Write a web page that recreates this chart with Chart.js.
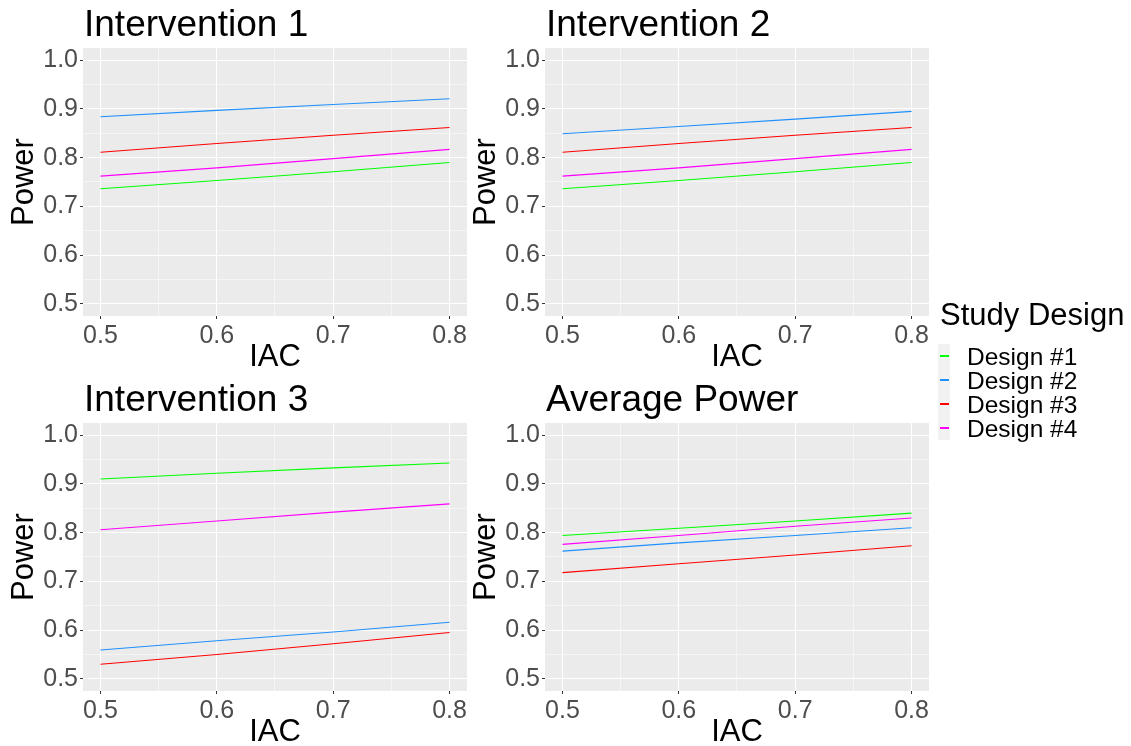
<!DOCTYPE html>
<html>
<head>
<meta charset="utf-8">
<script src="https://cdn.jsdelivr.net/npm/chart.js@4"></script>
<style>
    body { margin: 0; width: 1131px; height: 746px; background: #fff; overflow: hidden; position: relative; font-family: "Liberation Sans", Arial, sans-serif; }
    canvas { position: absolute; }
    #legend { position: absolute; left: 0; top: 0; z-index: 2; }
    .lg { position: absolute; line-height: 1; color: #000; white-space: nowrap; }
    .key { position: absolute; left: 940px; width: 9px; height: 2px; }
</style>
</head>
<body>
<canvas id="panel1" width="480" height="376" style="left:0px;top:0px"></canvas>
<canvas id="panel2" width="480" height="376" style="left:462px;top:0px"></canvas>
<canvas id="panel3" width="480" height="376" style="left:0px;top:375px"></canvas>
<canvas id="panel4" width="480" height="376" style="left:462px;top:375px"></canvas>
<div id="legend">
    <div style="position:absolute;left:938px;top:344px;width:12px;height:96px;background:#F2F2F2"></div>
    <div class="lg" style="left:940px;top:299px;font-size:31px">Study Design</div>
</div>
<script>
document.addEventListener("DOMContentLoaded", () => {
    // Data
    const iacValues = [0.5, 0.6, 0.7, 0.8];
    const designNames = ["Design #1", "Design #2", "Design #3", "Design #4"];
    const designColors = ["#00FF00", "#1E90FF", "#FF0000", "#FF00FF"];
    const panelTitles = ["Intervention 1", "Intervention 2", "Intervention 3", "Average Power"];
    const yTickValues = [0.5, 0.6, 0.7, 0.8, 0.9, 1.0];
    const xTickValues = [0.5, 0.6, 0.7, 0.8];

    // Power per design, one array per panel (rows follow designNames)
    const intervention1 = [
        [0.736, 0.753, 0.771, 0.790],
        [0.884, 0.897, 0.909, 0.921],
        [0.811, 0.829, 0.846, 0.862],
        [0.762, 0.779, 0.798, 0.817],
    ];
    const intervention2 = [
        [0.736, 0.753, 0.771, 0.790],
        [0.849, 0.864, 0.879, 0.895],
        [0.811, 0.829, 0.846, 0.862],
        [0.762, 0.779, 0.798, 0.817],
    ];
    const intervention3 = [
        [0.910, 0.922, 0.933, 0.943],
        [0.559, 0.578, 0.596, 0.616],
        [0.530, 0.550, 0.572, 0.595],
        [0.806, 0.824, 0.842, 0.859],
    ];
    const averagePower = [
        [0.794, 0.809, 0.824, 0.840],
        [0.762, 0.779, 0.794, 0.810],
        [0.718, 0.736, 0.754, 0.773],
        [0.776, 0.794, 0.813, 0.830],
    ];
    const panelData = [intervention1, intervention2, intervention3, averagePower];

    const fontFamily = '"Liberation Sans", Arial, sans-serif';

    // Major ticks from the arrays, minor ticks halfway between them
    function buildTicks(majors) {
        const ticks = [];
        majors.forEach((v, i) => {
            ticks.push({ value: v, major: true });
            if (i < majors.length - 1) {
                ticks.push({ value: (v + majors[i + 1]) / 2, major: false });
            }
        });
        return ticks;
    }

    function isMajor(ctx) {
        return ctx.tick ? ctx.tick.major : false;
    }

    // Grey panel background plus the title
    const panelDecor = {
        id: "panelDecor",
        beforeDraw(chart, args, opts) {
            const { ctx, chartArea } = chart;
            ctx.save();
            ctx.fillStyle = "#EBEBEB";
            ctx.fillRect(chartArea.left, chartArea.top, chartArea.right - chartArea.left, chartArea.bottom - chartArea.top);
            ctx.restore();
        },
        afterDraw(chart, args, opts) {
            const { ctx, chartArea } = chart;
            ctx.save();
            ctx.fillStyle = "#000";
            ctx.font = "37px " + fontFamily;
            ctx.textBaseline = "alphabetic";
            ctx.fillText(opts.text, chartArea.left + 1, 36);
            ctx.restore();
        },
    };

    function axisOptions(min, max, majors, size, titleText, titlePadding) {
        return {
            type: "linear",
            min: min,
            max: max,
            afterFit: size,
            afterBuildTicks: (scale) => { scale.ticks = buildTicks(majors); },
            ticks: {
                autoSkip: false,
                maxRotation: 0,
                padding: 2,
                color: "#4D4D4D",
                font: { size: 25, family: fontFamily },
                callback: function (v, i, ticks) {
                    return ticks[i].major ? v.toFixed(1) : "";
                },
            },
            grid: {
                color: (ctx) => isMajor(ctx) ? "#FFFFFF" : "rgba(255,255,255,0.5)",
                tickColor: (ctx) => isMajor(ctx) ? "#333333" : "rgba(0,0,0,0)",
                lineWidth: 1,
                tickLength: 3,
            },
            border: { display: false },
            title: {
                display: true,
                text: titleText,
                color: "#000",
                font: { size: 31, family: fontFamily },
                padding: titlePadding,
            },
        };
    }

    function makePanel(canvasId, title, rows) {
        const datasets = rows.map((vals, i) => ({
            label: designNames[i],
            data: vals.map((y, j) => ({ x: iacValues[j], y: y })),
            borderColor: designColors[i],
            backgroundColor: designColors[i],
            borderWidth: 1.1,
            pointRadius: 0,
            fill: false,
            tension: 0,
        }));

        return new Chart(document.getElementById(canvasId).getContext("2d"), {
            type: "line",
            data: { datasets: datasets },
            options: {
                responsive: false,
                animation: false,
                devicePixelRatio: 1,
                layout: { padding: { left: 0, right: 13, top: 48, bottom: 0 } },
                plugins: {
                    legend: { display: false },
                    tooltip: { enabled: false },
                    panelDecor: { text: title },
                },
                scales: {
                    x: axisOptions(0.485, 0.815, xTickValues, (s) => { s.height = 60; }, "IAC", { top: 0, bottom: 0 }),
                    y: axisOptions(0.475, 1.025, yTickValues, (s) => { s.width = 83; }, "Power", { top: 6, bottom: 0 }),
                },
            },
            plugins: [panelDecor],
        });
    }

    const canvasIds = ["panel1", "panel2", "panel3", "panel4"];
    canvasIds.forEach((id, i) => makePanel(id, panelTitles[i], panelData[i]));

    // Shared legend
    const legend = document.getElementById("legend");
    designNames.forEach((name, i) => {
        const key = document.createElement("div");
        key.className = "key";
        key.style.top = (355 + i * 24) + "px";
        key.style.background = designColors[i];
        legend.appendChild(key);

        const label = document.createElement("div");
        label.className = "lg";
        label.style.left = "967px";
        label.style.top = (345 + i * 24) + "px";
        label.style.fontSize = "24.5px";
        label.textContent = name;
        legend.appendChild(label);
    });
});
</script>
</body>
</html>
